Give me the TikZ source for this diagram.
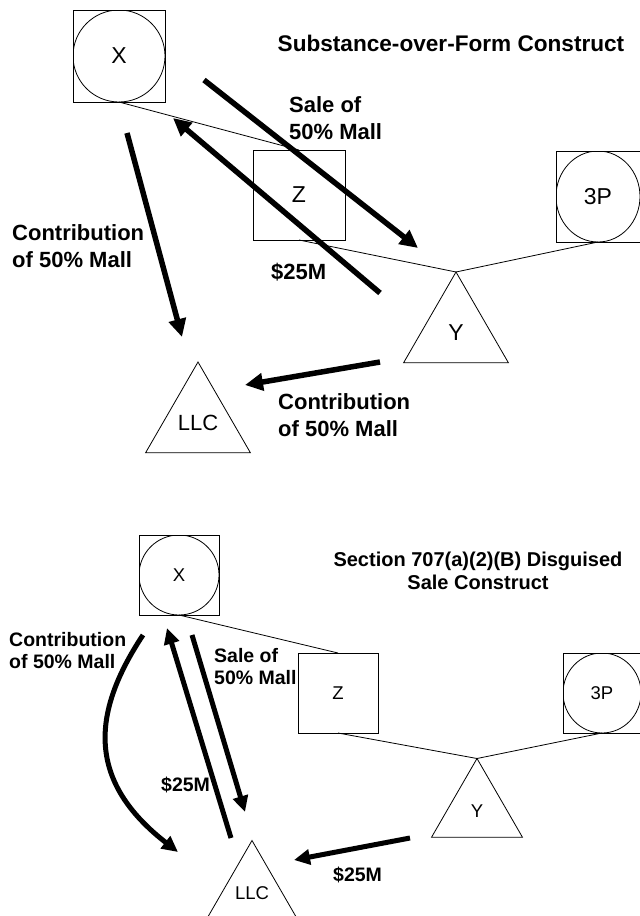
\documentclass[tikz,border=0pt]{standalone}
\usepackage{fontspec}
\setmainfont{Liberation Sans}
\usetikzlibrary{arrows.meta,shapes.geometric}
\tikzset{
  corp/.style 2 args={draw,line width=0.8pt,inner sep=0pt,outer sep=0pt,minimum width=#1,minimum height=#2},
  ptnr/.style 2 args={corp={#1}{#2},path picture={\draw[line width=0.8pt] (path picture bounding box.center) ellipse[x radius=#1/2,y radius=#2/2];}},
  tri/.style={draw,line width=0.8pt,regular polygon,regular polygon sides=3,inner sep=1pt,outer sep=0pt,minimum size=#1},
  lbl/.style={font=\fontsize{#1}{#1}\selectfont},
  own/.style={draw,line width=0.8pt},
  flow/.style={-{Triangle[length=18pt,width=17pt]},line width=5.5pt},
  flowsm/.style={-{Triangle[length=16pt,width=15pt]},line width=5pt},
  tag/.style={font=\bfseries\fontsize{22}{27}\selectfont,align=left,anchor=west,inner sep=0pt},
  tagsm/.style={font=\bfseries\fontsize{19.5}{22}\selectfont,align=left,anchor=west,inner sep=0pt},
  head/.style={font=\bfseries\fontsize{#1}{23}\selectfont,align=center,inner sep=0pt}
}
\begin{document}
\begin{tikzpicture}[x=1pt,y=-1pt]
\useasboundingbox (0,0) rectangle (640,916);
% substance over form
\node[ptnr={92pt}{92pt},lbl=23] (X) at (119,56) {X};
\node[corp={92pt}{90pt},lbl=23] (Z) at (299,195) {Z};
\node[ptnr={84pt}{91pt},lbl=23] (P) at (598,196.5) {3P};
\node[tri=121pt,lbl=23] (Y) at (456,332.5) {Y};
\node[tri=121pt,lbl=22] (LLC) at (198,422.5) {LLC};
\draw[own] (X.south) -- (Z.north);
\draw[own] (Z.south) -- (Y.corner 1);
\draw[own] (P.south) -- (Y.corner 1);
\node[head=22.6] (ttl) at (451,43) {Substance-over-Form Construct};
\coordinate (contS) at (127,133);
\coordinate (contE) at (182,337);
\coordinate (saleS) at (204,80);
\coordinate (saleE) at (418,248);
\coordinate (cashS) at (380,293);
\coordinate (cashE) at (173,118);
\coordinate (yconS) at (380,362);
\coordinate (yconE) at (245,385);
\draw[flow] (contS) -- (contE);
\draw[flow] (saleS) -- (saleE);
\draw[flow] (cashS) -- (cashE);
\draw[flow] (yconS) -- (yconE);
\node[tag] (contT) at (12,246) {Contribution\\of 50\% Mall};
\node[tag] (saleT) at (289,118) {Sale of\\50\% Mall};
\node[tag] (cashT) at (271,272) {\$25M};
\node[tag] (yconT) at (278,415) {Contribution\\of 50\% Mall};
% disguised sale
\node[ptnr={80pt}{80pt},lbl=18.5] (X2) at (179,575) {X};
\node[corp={80pt}{80pt},lbl=18.5] (Z2) at (338,693) {Z};
\node[ptnr={78pt}{80pt},lbl=18.5] (P2) at (602,693) {3P};
\node[tri=105pt,lbl=18.5] (Y2) at (477,811) {Y};
\node[tri=105pt,lbl=18.5] (LLC2) at (252,893) {LLC};
\draw[own] (X2.south) -- (Z2.north);
\draw[own] (Z2.south) -- (Y2.corner 1);
\draw[own] (P2.south) -- (Y2.corner 1);
\node[head=20] (ttl2) at (478,571) {Section 707(a)(2)(B) Disguised\\Sale Construct};
\coordinate (contS2) at (143,635);
\coordinate (contE2) at (178,852);
\coordinate (cashS2) at (231,838);
\coordinate (cashE2) at (167,628);
\coordinate (saleS2) at (192,635);
\coordinate (saleE2) at (245,812);
\coordinate (ycashS2) at (410,838);
\coordinate (ycashE2) at (294,860);
\draw[flowsm] (contS2) .. controls (90,715) and (88,782) .. (contE2);
\draw[flowsm] (cashS2) -- (cashE2);
\draw[flowsm] (saleS2) -- (saleE2);
\draw[flowsm] (ycashS2) -- (ycashE2);
\node[tagsm] (contT2) at (9,651) {Contribution\\of 50\% Mall};
\node[tagsm] (saleT2) at (214,667) {Sale of\\50\% Mall};
\node[tagsm] (cashT2) at (161,785) {\$25M};
\node[tagsm] (ycashT2) at (333,875) {\$25M};
\end{tikzpicture}
\end{document}
